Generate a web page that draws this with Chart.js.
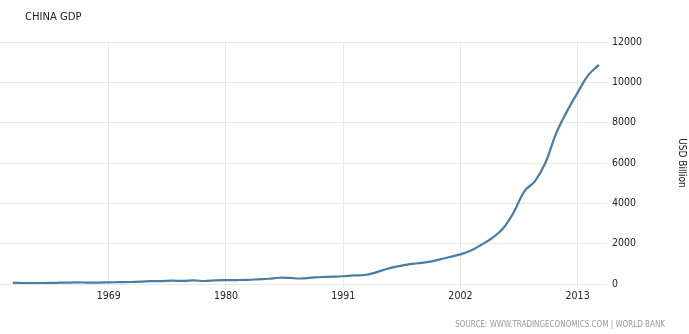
<!DOCTYPE html>
<html>
<head>
<meta charset="utf-8">
<title>China GDP</title>
<script src="https://cdn.jsdelivr.net/npm/chart.js@4/dist/chart.umd.min.js"></script>
<style>
    html, body { margin: 0; padding: 0; background: #fff; }
    #wrap { width: 689px; height: 334px; position: relative; }
</style>
</head>
<body>
<div id="wrap"><canvas id="gdpChart"></canvas></div>
<script>
// China GDP, USD billion (World Bank)
const years = [];
for (let y = 1960; y <= 2015; y++) years.push(y);
const gdp = [
    59.7, 50.1, 47.2, 50.7, 59.7, 70.4, 76.7, 72.1, 70.8, 79.7,
    92.6, 99.8, 113.7, 138.5, 144.2, 163.4, 153.9, 174.9, 149.5, 178.3,
    191.1, 195.9, 205.1, 230.7, 259.9, 309.5, 300.8, 273.0, 312.4, 347.8,
    360.9, 383.4, 426.9, 444.7, 564.3, 734.5, 863.7, 961.6, 1029.0, 1094.0,
    1211.3, 1339.4, 1470.6, 1660.3, 1955.3, 2286.0, 2752.1, 3552.2, 4598.2, 5105.8,
    6039.7, 7492.4, 8560.5, 9490.6, 10354.8, 10866.4
];
const xTicks = [1969, 1980, 1991, 2002, 2013];
const yTicks = [0, 2000, 4000, 6000, 8000, 10000, 12000];

const gridColor = '#e8e8e8';
const tickFont = { family: 'DejaVu Sans Condensed', size: 10.5 };

// Title and source line
const textPlugin = {
    id: 'textPlugin',
    afterDraw(chart) {
        const ctx = chart.ctx;
        ctx.save();
        ctx.textBaseline = 'middle';
        ctx.fillStyle = '#222';
        ctx.font = '10px "DejaVu Sans"';
        ctx.textAlign = 'left';
        ctx.fillText('CHINA GDP', 25, 17);
        ctx.fillStyle = '#999';
        ctx.font = '8px "DejaVu Sans Condensed"';
        ctx.textAlign = 'right';
        ctx.fillText('SOURCE: WWW.TRADINGECONOMICS.COM | WORLD BANK', 665, 325);
        ctx.restore();
    }
};

new Chart(document.getElementById('gdpChart'), {
    type: 'line',
    data: {
        datasets: [{
            label: 'China GDP',
            data: years.map((y, i) => ({ x: y, y: gdp[i] })),
            borderColor: '#4a7ca6',
            borderWidth: 2.2,
            pointRadius: 0,
            tension: 0.4,
            fill: false
        }]
    },
    options: {
        responsive: true,
        maintainAspectRatio: false,
        animation: false,
        layout: { padding: { top: 42, left: 0, right: 0, bottom: 0 } },
        plugins: {
            legend: { display: false },
            tooltip: { enabled: false }
        },
        scales: {
            x: {
                type: 'linear',
                min: 1958.8,
                max: 2015.1,
                afterBuildTicks: s => { s.ticks = xTicks.map(v => ({ value: v })); },
                afterFit: s => { s.height = 50; },
                grid: { color: gridColor, tickLength: 4 },
                border: { display: false },
                ticks: { color: '#222', font: tickFont, padding: 2, maxRotation: 0, callback: v => String(v) }
            },
            y: {
                position: 'right',
                min: 0,
                max: 12000,
                afterBuildTicks: s => { s.ticks = yTicks.map(v => ({ value: v })); },
                afterFit: s => { s.width = 89; },
                grid: { color: gridColor, tickLength: 7 },
                border: { display: false },
                ticks: { color: '#222', font: tickFont, padding: 5, callback: v => String(v) },
                title: {
                    display: true,
                    text: 'USD Billion',
                    color: '#222',
                    font: { family: 'DejaVu Sans Condensed', size: 10 },
                    padding: { top: 1, bottom: 1 }
                }
            }
        }
    },
    plugins: [textPlugin]
});
</script>
</body>
</html>
